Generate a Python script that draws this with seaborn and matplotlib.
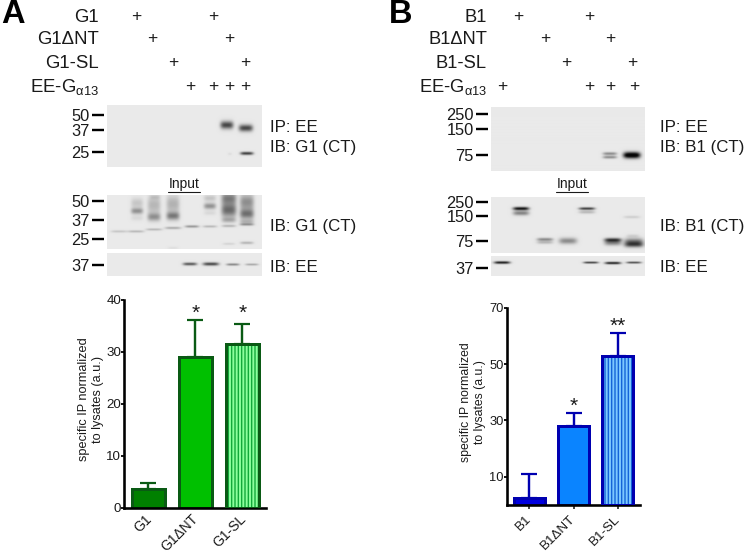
import numpy as np
import matplotlib
matplotlib.use("Agg")
import matplotlib.pyplot as plt
from matplotlib.lines import Line2D
from matplotlib.transforms import ScaledTranslation
import seaborn as sns

# bar values and top of the error whiskers
a_labels = ["G1", "G1\u0394NT", "G1-SL"]
a_means = [3.6, 29.0, 31.6]
a_tops = [4.8, 36.1, 35.4]
a_stars = ["", "*", "*"]
a_star_y = [0, 37.5, 37.5]
a_ticks = [0, 10, 20, 30, 40]

b_labels = ["B1", "B1\u0394NT", "B1-SL"]
b_means = [2.4, 28.2, 52.9]
b_tops = [11.0, 32.5, 60.9]
b_stars = ["", "*", "**"]
b_star_y = [0, 35.1, 63.5]
b_ticks = [10, 30, 50, 70]

# treatment table above the blots: +/- per lane, x is lane position in pixels
a_rows = ["G1", "G1\u0394NT", "G1-SL", "EE-G$_{\\mathrm{\u03b113}}$"]
a_plus = [[136, 213], [152, 229], [173, 245], [190, 213, 229, 245]]
b_rows = ["B1", "B1\u0394NT", "B1-SL", "EE-G$_{\\mathrm{\u03b113}}$"]
b_plus = [[518, 589], [545, 610], [566, 632], [502, 589, 610, 634]]

# blot markers: size (kDa) and migration distance from top of the membrane
a_ip_kda, a_ip_mig = [50, 37, 25], [10, 25, 47]
a_in_kda, a_in_mig = [50, 37, 25], [6, 25, 44]
a_ee_kda, a_ee_mig = [37], [12]
b_ip_kda, b_ip_mig = [250, 150, 75], [7, 22, 48]
b_in_kda, b_in_mig = [250, 150, 75], [5, 19, 44]
b_ee_kda, b_ee_mig = [37], [12]

# bands: lane x, migration, half width, half thickness, darkness
a_ip_bands = [(120, 20, 6.5, 3.8, .65), (139, 23, 7, 3.4, .65), (140, 48.5, 6.5, 1.4, .75), (123, 49, 2, 1, .06)]
a_in_bands = [
    (12, 36.5, 8, .9, .18), (29, 36.5, 8, .9, .25), (47, 34.5, 8, .9, .25), (66, 33, 8, 1, .3),
    (85, 31.5, 7, 1, .4), (103, 31.5, 7, .9, .25), (122, 31, 7, 1, .25), (140, 29.5, 7, 1, .35),
    (30, 16, 6, 3, .35), (30, 8, 6, 5, .14), (30, 23, 6, 2.5, .07),
    (47, 22, 6.5, 4, .33), (47, 10, 6.5, 9, .2), (48, 2, 5, 2, .1),
    (66, 21, 6.5, 4, .42), (66, 9, 6.5, 9, .22), (66, 53, 5, 1, .05),
    (103, 11, 6, 3, .35), (103, 3, 6, 3, .15), (103, 18, 6, 2, .07),
    (122, 15, 7.5, 7, .5), (122, 3, 7.5, 6, .42), (122, 25, 7, 2.5, .22), (122, 49, 6, .8, .12),
    (140, 19, 7, 5, .45), (140, 7, 7, 8, .36), (140, 27, 7, 2.5, .2), (140, 48, 6.5, 1.1, .25),
]
a_ee_bands = [(83, 11, 7, 1.3, .65), (104, 11, 8, 1.5, .7), (126, 11.5, 6.5, .9, .5), (145, 11.5, 6.5, .7, .38)]
b_ip_bands = [(119, 47, 7, 1.3, .42), (119, 50.5, 7, 1.2, .42), (141, 48.5, 8.5, 3, 1.1)]
b_in_bands = [
    (30, 11.5, 8, 1.5, .95), (30, 16, 8, 2.2, .42), (54, 42.5, 8, 1.4, .42), (54, 45.5, 8, 1.4, .22),
    (77, 44, 9, 3, .38), (96, 11.5, 8, 1.1, .8), (96, 15, 8, 1.4, .22),
    (122, 43, 8.5, 1.8, .7), (122, 46, 8.5, 2.5, .4), (143, 45, 9.5, 3.5, .5), (143, 48, 9.5, 2.5, .45),
    (141, 20, 8, 1.1, .13), (142, 39, 6, 1.5, .1),
]
b_ee_bands = [(11, 6.5, 8, 1.1, 1.0), (100, 6.5, 7.5, .7, 1.0), (122, 7, 8, 1, 1.0), (143, 6.5, 7.5, .7, .9)]

W, H = 745, 555
GEL = 0.915

sns.set_style("ticks")
plt.rcParams["font.family"] = ["Liberation Sans", "DejaVu Sans"]
plt.rcParams["mathtext.fontset"] = "custom"
plt.rcParams["mathtext.rm"] = "Liberation Sans"
plt.rcParams["mathtext.it"] = "Liberation Sans"
plt.rcParams["hatch.linewidth"] = 1.0
PX = 0.72  # points per pixel at dpi 100

fig = plt.figure(figsize=(W / 100, H / 100), dpi=100)


def px_axes(left, top, right, bottom):
    return fig.add_axes([left / W, 1 - bottom / H, (right - left) / W, (bottom - top) / H])


def px_text(x, y, s, **kw):
    kw.setdefault("fontsize", 12.2)
    kw.setdefault("va", "center")
    return fig.text(x / W, 1 - y / H, s, color=kw.pop("color", "#1a1a1a"), **kw)


def soften(img, n=5):
    kernel = np.ones(n) / n
    img = np.pad(img, n, mode="edge")
    img = np.apply_along_axis(np.convolve, 0, img, kernel, mode="same")
    img = np.apply_along_axis(np.convolve, 1, img, kernel, mode="same")
    return img[n:-n, n:-n]


def draw_blot(box, kda, mig, bands):
    left, top, right, bottom = box
    ax = px_axes(left, top, right, bottom)
    width, height = right - left, bottom - top
    xs = np.linspace(0, width, width * 3)
    ys = np.linspace(0, height, height * 3)
    xx, yy = np.meshgrid(xs, ys)
    img = np.full(xx.shape, GEL)
    for x0, y0, hw, ht, dark in bands:
        img -= dark * np.exp(-((xx - x0) / hw) ** 4) * np.exp(-((yy - y0) / ht) ** 2)
    ax.imshow(soften(np.clip(img, 0.02, 1)), cmap="gray", vmin=0, vmax=1, aspect="auto",
              extent=(0, width, height, 0), interpolation="bilinear")
    for s in ax.spines.values():
        s.set_visible(False)
    ax.spines["left"].set_position(("outward", 3 * PX))
    ax.set_xticks([])
    ax.set_yticks(mig)
    ax.set_yticklabels(kda, fontsize=11.8, color="#1a1a1a")
    ax.tick_params(axis="y", length=12 * PX, width=2.4 * PX, color="black", pad=1.5)
    return ax


def draw_bars(box, labels, means, tops, stars, star_y, ticks, ymax, xlim, fills, edge, stripe, size, xsize, show_xticks):
    ax = px_axes(*box)
    sns.barplot(x=labels, y=means, hue=labels, palette=fills, width=0.7, legend=False,
                linewidth=3.0 * PX, edgecolor=edge, saturation=1, errorbar=None, ax=ax)
    # striped bar: hatch takes the edge colour, so outline it again on top
    ax.patches[2].set_hatch("|||||")
    ax.patches[2].set_edgecolor(stripe)
    ax.bar(2, means[2], width=0.7, fill=False, edgecolor=edge, linewidth=3.0 * PX, zorder=3)
    ax.errorbar(range(3), means, yerr=[np.zeros(3), np.array(tops) - np.array(means)], fmt="none",
                ecolor=edge, elinewidth=2.4 * PX, capsize=8 * PX, capthick=2.2 * PX, zorder=1)
    for i in range(3):
        if stars[i]:
            ax.text(i, star_y[i], stars[i], ha="center", va="center", fontsize=15, color="#1a1a1a")
    ax.set_xlim(*xlim)
    ax.set_ylim(0, ymax)
    ax.set_yticks(ticks)
    ax.tick_params(axis="y", labelsize=size, length=3 * PX, width=2 * PX, pad=0, colors="#1a1a1a")
    ax.tick_params(axis="x", labelsize=xsize, length=(4 * PX if show_xticks else 0), width=1.6 * PX, pad=3, colors="#1a1a1a")
    plt.setp(ax.get_xticklabels(), rotation=45, ha="right", rotation_mode="anchor")
    # nudge the slanted labels left so they end under the bar centre
    shift = ScaledTranslation(-4 / 100, 0, fig.dpi_scale_trans)
    for lab in ax.get_xticklabels():
        lab.set_transform(lab.get_transform() + shift)
    for s in ["left", "bottom"]:
        ax.spines[s].set_linewidth(2.6 * PX)
        ax.spines[s].set_color("black")
    sns.despine(ax=ax)
    return ax


# panel letters
px_text(1, 14.5, "A", fontsize=23.5, fontweight="bold", color="black")
px_text(389, 14.5, "B", fontsize=23.5, fontweight="bold", color="black")

# treatment tables
row_y = [17, 40, 63, 87]
for i in range(4):
    px_text(99, row_y[i], a_rows[i], ha="right", fontsize=13.4)
    px_text(487, row_y[i], b_rows[i], ha="right", fontsize=13.2)
    for x in a_plus[i]:
        px_text(x, row_y[i] - 1, "+", ha="center", fontsize=12.6)
    for x in b_plus[i]:
        px_text(x, row_y[i] - 1, "+", ha="center", fontsize=12.6)

# blots, panel A
draw_blot((107, 105, 262, 167), a_ip_kda, a_ip_mig, a_ip_bands)
draw_blot((107, 195, 262, 249), a_in_kda, a_in_mig, a_in_bands)
draw_blot((107, 253, 262, 276), a_ee_kda, a_ee_mig, a_ee_bands)
px_text(270, 128, "IP: EE")
px_text(270, 148, "IB: G1 (CT)")
px_text(270, 226, "IB: G1 (CT)")
px_text(270, 268, "IB: EE")
px_text(184, 184, "Input", ha="center", fontsize=10)
fig.add_artist(Line2D([168 / W, 200 / W], [1 - 191.5 / H] * 2, color="#1a1a1a", lw=0.8))

# blots, panel B
draw_blot((491, 107, 645, 171), b_ip_kda, b_ip_mig, b_ip_bands)
draw_blot((491, 197, 645, 253), b_in_kda, b_in_mig, b_in_bands)
draw_blot((491, 256, 645, 276), b_ee_kda, b_ee_mig, b_ee_bands)
px_text(660, 128, "IP: EE")
px_text(660, 148, "IB: B1 (CT)")
px_text(660, 226, "IB: B1 (CT)")
px_text(660, 268, "IB: EE")
px_text(572, 184, "Input", ha="center", fontsize=10)
fig.add_artist(Line2D([556 / W, 588 / W], [1 - 191.5 / H] * 2, color="#1a1a1a", lw=0.8))

# bar charts
ax_a = draw_bars((124, 300, 266, 507.7), a_labels, a_means, a_tops, a_stars, a_star_y, a_ticks, 40,
                 (-0.52, 2.5), ["#008000", "#00c000", "#8cff9c"], "#0a5a14", "#12a83a", 9.6, 10.0, False)
ax_b = draw_bars((507, 307.7, 640, 505), b_labels, b_means, b_tops, b_stars, b_star_y, b_ticks, 70,
                 (-0.5, 2.5), ["#0000e0", "#0a84ff", "#7cc8ff"], "#0000b0", "#1464d8", 9.3, 9.6, True)
px_text(91, 399.5, "specific IP normalized\nto lysates (a.u.)", rotation=90, ha="center",
        multialignment="center", fontsize=9.2, linespacing=1.3)
px_text(473, 402, "specific IP normalized\nto lysates (a.u.)", rotation=90, ha="center",
        multialignment="center", fontsize=8.8, linespacing=1.3)

fig.savefig("out.png", dpi=100)
